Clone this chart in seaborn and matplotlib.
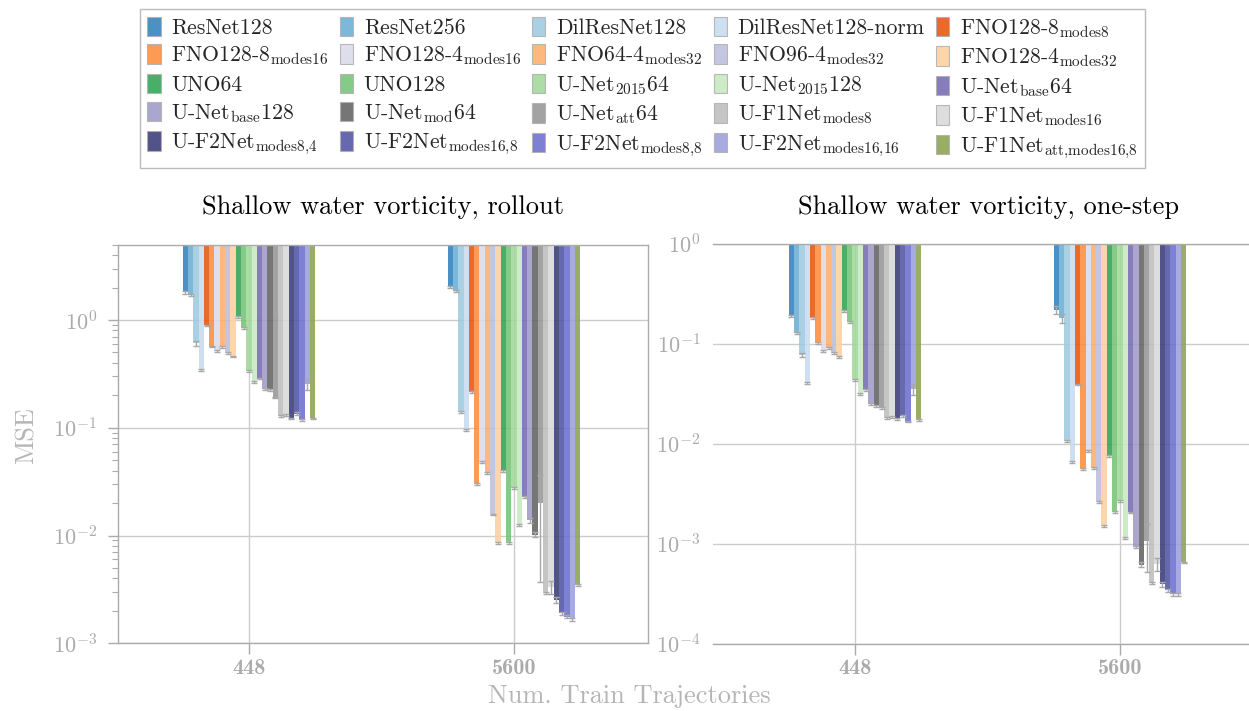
import numpy as np
import matplotlib
matplotlib.use('Agg')
import matplotlib.pyplot as plt
import seaborn as sns
from matplotlib.patches import Patch

train_sizes = ['448', '5600']

models = [
    'ResNet128', 'ResNet256', 'DilResNet128', 'DilResNet128-norm',
    r'FNO128-8$_{\mathrm{modes8}}$', r'FNO128-8$_{\mathrm{modes16}}$',
    r'FNO128-4$_{\mathrm{modes16}}$', r'FNO64-4$_{\mathrm{modes32}}$',
    r'FNO96-4$_{\mathrm{modes32}}$', r'FNO128-4$_{\mathrm{modes32}}$',
    'UNO64', 'UNO128', r'U-Net$_{2015}$64', r'U-Net$_{2015}$128',
    r'U-Net$_{\mathrm{base}}$64', r'U-Net$_{\mathrm{base}}$128',
    r'U-Net$_{\mathrm{mod}}$64', r'U-Net$_{\mathrm{att}}$64',
    r'U-F1Net$_{\mathrm{modes8}}$', r'U-F1Net$_{\mathrm{modes16}}$',
    r'U-F2Net$_{\mathrm{modes8{,}4}}$', r'U-F2Net$_{\mathrm{modes16{,}8}}$',
    r'U-F2Net$_{\mathrm{modes8{,}8}}$', r'U-F2Net$_{\mathrm{modes16{,}16}}$',
    r'U-F1Net$_{\mathrm{att{,}modes16{,}8}}$',
]

colors = [
    '#3182bd', '#6baed6', '#9ecae1', '#c6dbef', '#e6550d',
    '#fd8d3c', '#dadaeb', '#fdae6b', '#bcbddc', '#fdd0a2',
    '#31a354', '#74c476', '#a1d99b', '#c7e9c0', '#756bb1',
    '#9e9ac8', '#636363', '#969696', '#bdbdbd', '#d9d9d9',
    '#393b79', '#5254a3', '#6b6ecf', '#9c9ede', '#8ca252',
]

# rollout MSE
rollout_448 = [1.81, 1.71, 0.606, 0.344, 0.89, 0.566, 0.515, 0.558, 0.497, 0.457,
               1.07, 0.843, 0.336, 0.266, 0.286, 0.229, 0.224, 0.192, 0.129, 0.131,
               0.122, 0.135, 0.118, 0.255, 0.122]
rollout_448_std = [0.05, 0.04, 0.032, 0.006, 0.015, 0.01, 0.01, 0.01, 0.008, 0.008,
                   0.015, 0.012, 0.005, 0.004, 0.004, 0.003, 0.003, 0.003, 0.002, 0.002,
                   0.002, 0.004, 0.002, 0.03, 0.002]
rollout_5600 = [2.04, 1.86, 0.141, 0.0955, 0.215, 0.0299, 0.0479, 0.0378, 0.0157, 0.00853,
                0.0397, 0.00859, 0.0275, 0.01245, 0.0230, 0.0139, 0.0102, 0.0201, 0.00292, 0.0033,
                0.00253, 0.0019, 0.00177, 0.00167, 0.00348]
rollout_5600_std = [0.05, 0.05, 0.003, 0.002, 0.004, 0.0006, 0.001, 0.0008, 0.0003, 0.0002,
                    0.0008, 0.0002, 0.0005, 0.0003, 0.0005, 0.0007, 0.0006, 0.0164, 0.00008, 0.00045,
                    0.00018, 0.00005, 0.00005, 0.00005, 0.00007]

# one-step MSE
onestep_448 = [0.189, 0.129, 0.077, 0.0407, 0.182, 0.101, 0.085, 0.090, 0.080, 0.074,
               0.212, 0.164, 0.0434, 0.0312, 0.0344, 0.0248, 0.024, 0.0226, 0.0182, 0.0186,
               0.0175, 0.019, 0.0166, 0.035, 0.0173]
onestep_448_std = [0.004, 0.003, 0.004, 0.001, 0.004, 0.002, 0.002, 0.002, 0.002, 0.002,
                   0.004, 0.003, 0.001, 0.0006, 0.0007, 0.0005, 0.0005, 0.0005, 0.0004, 0.0004,
                   0.0004, 0.0004, 0.0003, 0.0047, 0.0003]
onestep_5600 = [0.218, 0.18, 0.0106, 0.00656, 0.039, 0.00555, 0.00844, 0.00571, 0.00262, 0.00151,
                0.0075, 0.00208, 0.00268, 0.00114, 0.00205, 0.00093, 0.000617, 0.00105, 0.000401, 0.000624,
                0.00039, 0.00034, 0.00031, 0.00031, 0.00065]
onestep_5600_std = [0.018, 0.02, 0.0002, 0.00013, 0.0008, 0.0001, 0.00017, 0.0001, 0.00005, 0.00003,
                    0.00015, 0.00004, 0.00005, 0.00002, 0.00004, 0.00002, 0.000035, 0.00053, 0.00001, 0.000087,
                    0.000022, 0.00001, 0.00001, 0.00001, 0.00001]

sns.set_theme(style='white')
plt.rcParams['font.family'] = ['cmr10', 'DejaVu Serif']
plt.rcParams['mathtext.fontset'] = 'cm'
plt.rcParams['axes.formatter.use_mathtext'] = True

gray = '#ababab'
grid_c = '#cccccc'
palette = sns.color_palette(colors)
bar_w = 0.02


def draw_panel(ax, means, stds, ylim):
    top = ylim[1]
    pos = np.arange(len(train_sizes))
    for i in range(len(models)):
        xs = pos + (i - 12) * bar_w
        m = np.array([means[0][i], means[1][i]])
        s = np.array([stds[0][i], stds[1][i]])
        ax.bar(xs, top - m, bottom=m, width=bar_w, color=palette[i],
               alpha=0.88, linewidth=0, zorder=2)
        ax.errorbar(xs, m, yerr=s, fmt='none', ecolor='#a8a8a8',
                    elinewidth=1, capsize=2.2, capthick=1, zorder=3)
    ax.set_yscale('log')
    ax.set_ylim(*ylim)
    ax.set_xticks(pos)
    ax.set_xticklabels(train_sizes, fontfamily='cmb10', fontsize=16, color=gray)
    ax.grid(True, which='major', color=grid_c, linewidth=1)
    ax.set_axisbelow(True)
    for sp in ax.spines.values():
        sp.set_color(gray)
        sp.set_linewidth(1)
    ax.tick_params(axis='x', direction='out', length=8, width=1, color=gray, pad=3,
                   bottom=True)
    ax.tick_params(axis='y', labelsize=16, labelcolor=gray)


fig = plt.figure(figsize=(12.49, 7.11), dpi=100)
W, H = 1249, 711
ax1 = fig.add_axes([118 / W, 1 - 643.3 / H, 530 / W, (643.3 - 244.7) / H])
ax2 = fig.add_axes([713 / W, 1 - 643.5 / H, (1254 - 713) / W, (643.5 - 243.7) / H])

draw_panel(ax1, [rollout_448, rollout_5600], [rollout_448_std, rollout_5600_std], (1e-3, 5))
ax1.set_xlim(-0.494, 1.506)
ax1.tick_params(axis='y', which='major', direction='out', length=7, width=1,
                color=gray, left=True, pad=8)
ax1.tick_params(axis='y', which='minor', direction='out', length=4.5, width=0.8,
                color=gray, left=True)

draw_panel(ax2, [onestep_448, onestep_5600], [onestep_448_std, onestep_5600_std], (1e-4, 1))
ax2.set_xlim(-(855 - 713) / 265, 1 + (1254 - 1120) / 265)
ax2.spines['left'].set_visible(False)
ax2.tick_params(axis='y', which='both', length=0, pad=9)

fig.text(383 / W, 1 - 207 / H, 'Shallow water vorticity, rollout',
         ha='center', va='center', fontsize=19, color='black')
fig.text(988 / W, 1 - 207 / H, 'Shallow water vorticity, one-step',
         ha='center', va='center', fontsize=19, color='black')
fig.text(629 / W, 1 - 696 / H, 'Num. Train Trajectories',
         ha='center', va='center', fontsize=19, color='#b5b5b5')
fig.text(27 / W, 1 - 436 / H, 'MSE', ha='center', va='center', rotation=90,
         fontsize=19, color='#b5b5b5')

handles = [Patch(facecolor=palette[i], edgecolor='#b0b0b0', linewidth=0.8, alpha=0.88)
           for i in range(len(models))]
order = [j + 5 * i for j in range(5) for i in range(5)]
fig.legend([handles[k] for k in order], [models[k] for k in order],
           loc='upper center', bbox_to_anchor=(642.5 / W, 1 - 9 / H), ncol=5,
           fontsize=15.7, frameon=True, fancybox=False, edgecolor='#bbbbbb',
           framealpha=1, handlelength=0.6, handleheight=1.0, handletextpad=0.5,
           columnspacing=0.5, labelspacing=0.3, borderpad=0.35, borderaxespad=0)

fig.savefig('out.png', dpi=100)
